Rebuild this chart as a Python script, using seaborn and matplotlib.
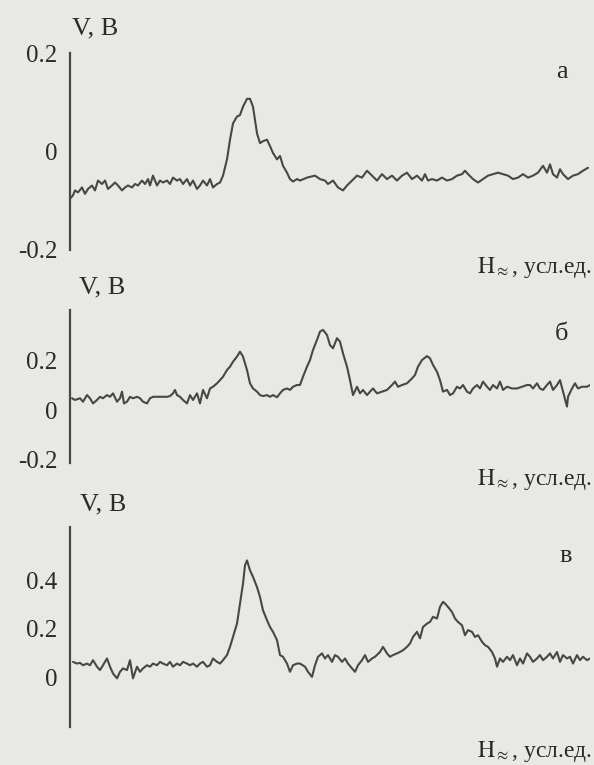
import matplotlib
matplotlib.use("Agg")
import matplotlib.pyplot as plt
import seaborn as sns
import pandas as pd

# ---------------- data (H in arbitrary units, V in volts) ----------------
# panel а
H_a1 = [0,3,5,8,12,15,18,22,25,28,32,35,38,42,45,48,52,55,58,62,65,68,72,75,78,80,83,87,90,93,
        97,100,103,107,110,113,117,120,123,127,130,133,137,140,143,147,150,153,157,160,163,167,170,173,177,
        180,183,187,190,193,197,200,203,207,210,213,217,220,223,227,230]
V_a1 = [-0.096,-0.089,-0.079,-0.083,-0.073,-0.086,-0.076,-0.069,-0.079,-0.059,-0.066,-0.059,-0.076,-0.069,
        -0.063,-0.069,-0.079,-0.073,-0.069,-0.073,-0.066,-0.069,-0.059,-0.066,-0.056,-0.069,-0.049,-0.069,
        -0.059,-0.063,-0.059,-0.066,-0.053,-0.059,-0.056,-0.066,-0.056,-0.069,-0.059,-0.076,-0.069,-0.059,
        -0.069,-0.056,-0.073,-0.066,-0.063,-0.049,-0.016,0.024,0.057,0.071,0.074,0.091,0.107,0.107,0.091,
        0.037,0.017,0.021,0.024,0.011,-0.003,-0.016,-0.009,-0.029,-0.043,-0.056,-0.061,-0.056,-0.059]
H_a2 = [237,245,250,255,258,263,268,273,277,282,287,292,297,302,307,312,317,322,327,332,337,342,347,352,
        355,358,362,367,372,377,382,387,392,395,398,403,408,413,418,423,428,433,438,443,448,453,458,463,
        468,473,477,480,483,487,490,493,498,503,508,513,518]
V_a2 = [-0.053,-0.049,-0.056,-0.059,-0.066,-0.059,-0.073,-0.079,-0.069,-0.059,-0.049,-0.053,-0.039,-0.049,
        -0.059,-0.046,-0.056,-0.049,-0.059,-0.049,-0.043,-0.056,-0.049,-0.059,-0.046,-0.059,-0.056,-0.059,
        -0.053,-0.059,-0.056,-0.049,-0.046,-0.039,-0.046,-0.056,-0.063,-0.056,-0.049,-0.046,-0.043,-0.046,
        -0.049,-0.056,-0.053,-0.046,-0.053,-0.049,-0.043,-0.029,-0.043,-0.026,-0.046,-0.053,-0.036,-0.046,
        -0.056,-0.049,-0.046,-0.039,-0.033]

# panel б
H_b1 = [2,5,10,13,17,20,23,27,30,33,37,40,43,47,50,52,54,57,60,63,67,70,73,77,80,83,87,90,93,97,
        100,103,105,107,110,113,117,120,123,127,130,133,137,140,143,147,150,153,157,160,163,167,170,173,
        177,180,183,187,190,193,197,200,203,207,210,213,217,220,223,227,230]
V_b1 = [0.048,0.041,0.048,0.034,0.061,0.048,0.027,0.041,0.054,0.048,0.061,0.054,0.068,0.034,0.048,0.075,
        0.027,0.034,0.054,0.048,0.054,0.048,0.034,0.027,0.048,0.054,0.054,0.054,0.054,0.054,0.057,0.068,
        0.082,0.061,0.054,0.041,0.027,0.061,0.041,0.068,0.027,0.082,0.048,0.088,0.095,0.109,0.122,0.136,
        0.163,0.177,0.197,0.218,0.238,0.218,0.163,0.109,0.088,0.075,0.061,0.057,0.061,0.054,0.061,0.052,
        0.068,0.082,0.088,0.082,0.095,0.102,0.102]
H_b2 = [233,237,240,243,247,250,253,257,260,263,267,270,273,277,280,283,287,290,293,297,300,303,307,312,
        317,322,325,328,332,337,342,345,348,352,357,360,363,367,370,373,377,380,383,387,390,393,397,400,
        403,407,410,413,417,420,423,427,430,433,437,442,447,452,457,460,463,467,470,473,477,480,483,487,
        490,493,497,498,502,505,508,512,517,520]
V_b2 = [0.136,0.177,0.204,0.245,0.286,0.320,0.327,0.306,0.265,0.252,0.293,0.279,0.231,0.177,0.122,0.061,
        0.095,0.068,0.082,0.061,0.075,0.088,0.068,0.075,0.082,0.102,0.116,0.095,0.102,0.109,0.129,0.143,
        0.177,0.204,0.220,0.211,0.184,0.156,0.122,0.075,0.082,0.061,0.068,0.095,0.088,0.102,0.075,0.068,
        0.088,0.102,0.088,0.116,0.095,0.082,0.102,0.088,0.116,0.082,0.095,0.088,0.088,0.095,0.102,0.102,
        0.088,0.109,0.088,0.082,0.102,0.116,0.082,0.102,0.122,0.075,0.014,0.054,0.088,0.109,0.088,0.095,
        0.095,0.102]

# panel в
H_c1 = [3,7,10,13,17,20,23,27,30,33,37,40,43,47,50,53,57,60,63,67,70,73,77,80,83,87,90,93,97,100,
        103,107,110,113,117,120,123,127,130,133,137,140,143,147,150,153,157,160,163,167,170,173,175,177,
        180,183,187,190,193,197,200,203,207,210,213,217,220,223,227,230]
V_c1 = [0.063,0.056,0.059,0.049,0.056,0.049,0.070,0.043,0.029,0.049,0.077,0.043,0.015,-0.005,0.022,0.036,
        0.029,0.070,-0.005,0.043,0.022,0.036,0.049,0.043,0.056,0.049,0.063,0.056,0.049,0.063,0.043,0.056,
        0.049,0.063,0.056,0.049,0.056,0.043,0.056,0.063,0.043,0.049,0.077,0.063,0.056,0.070,0.091,0.125,
        0.166,0.221,0.304,0.386,0.462,0.482,0.441,0.414,0.372,0.331,0.276,0.235,0.207,0.187,0.153,0.091,
        0.084,0.056,0.022,0.049,0.056,0.056]
H_c2 = [235,238,242,245,248,252,255,258,262,265,268,272,275,278,282,285,288,292,295,298,302,305,
        310,313,317,320,323,327,330,333,337,340,343,347,350,353,357,360,363,367,370,373,375,
        378,382,385,388,392,395,398,402,405,408,412,415,418,422,425,427,
        430,433,437,440,443,447,450,453,457,460,463,467,470,473,477,480,483,487,490,493,497,500,503,507,
        510,513,517,520]
V_c2 = [0.043,0.022,0.001,0.049,0.084,0.098,0.077,0.091,0.063,0.091,0.084,0.063,0.077,0.056,0.036,0.022,
        0.049,0.070,0.091,0.063,0.077,0.084,0.104,0.125,0.098,0.084,0.091,0.098,0.104,0.111,0.125,0.139,
        0.166,0.187,0.160,0.207,0.221,0.228,0.249,0.242,0.290,0.311,0.304,0.290,0.269,0.242,0.228,0.214,
        0.173,0.194,0.187,0.166,0.173,0.146,0.132,0.125,0.104,0.077,0.043,0.077,0.063,0.084,0.070,0.091,
        0.049,0.077,0.056,0.098,0.084,0.063,0.077,0.091,0.070,0.084,0.098,0.077,0.104,0.063,0.091,0.077,
        0.084,0.056,0.091,0.070,0.084,0.070,0.077]

ticks_a = [-0.2, 0.0, 0.2]
ticklabels_a = ["-0.2", "0", "0.2"]
ticks_b = [-0.2, 0.0, 0.2]
ticklabels_b = ["-0.2", "0", "0.2"]
ticks_c = [0.0, 0.2, 0.4]
ticklabels_c = ["0", "0.2", "0.4"]
panel_letters = ["а", "б", "в"]
y_label = "V, B"
x_label = "$\\mathrm{H}_{\\approx}$, усл.ед."

# ---------------- style ----------------
BG = "#e8e8e5"
INK = "#474747"
TXT = "#2a2a2a"
sns.set_style("white")
plt.rcParams["font.family"] = ["Liberation Serif", "DejaVu Serif"]
plt.rcParams["mathtext.fontset"] = "stix"
plt.rcParams["axes.unicode_minus"] = False

W, Hpx = 594, 765
fig = plt.figure(figsize=(W / 100, Hpx / 100), dpi=100, facecolor=BG)

panels = [
    dict(H=H_a1 + H_a2, V=V_a1 + V_a2, ylim=(-0.2, 0.2), ticks=ticks_a, tl=ticklabels_a,
         axpx=(53, 250), letter=panel_letters[0], letpos=(562, 72), vbpos=(95, 28), hpos=(592, 268)),
    dict(H=H_b1 + H_b2, V=V_b1 + V_b2, ylim=(-0.216, 0.408), ticks=ticks_b, tl=ticklabels_b,
         axpx=(310, 463), letter=panel_letters[1], letpos=(562, 334), vbpos=(102, 287), hpos=(592, 480)),
    dict(H=H_c1 + H_c2, V=V_c1 + V_c2, ylim=(-0.206, 0.62), ticks=ticks_c, tl=ticklabels_c,
         axpx=(527, 727), letter=panel_letters[2], letpos=(566, 556), vbpos=(103, 504), hpos=(592, 751)),
]

left_px, right_px = 70, 590
for p in panels:
    top, bot = p["axpx"]
    ax = fig.add_axes([left_px / W, 1 - bot / Hpx, (right_px - left_px) / W, (bot - top) / Hpx])
    ax.set_facecolor("none")
    df = pd.DataFrame({"H": p["H"], "V": p["V"]})
    sns.lineplot(data=df, x="H", y="V", ax=ax, color=INK, linewidth=1.5,
                 estimator=None, sort=False)
    ax.set_xlim(0, 520)
    ax.set_ylim(*p["ylim"])
    sns.despine(ax=ax, top=True, right=True, bottom=True, left=False)
    ax.spines["left"].set_color(INK)
    ax.spines["left"].set_linewidth(1.6)
    ax.set_xticks([])
    ax.set_yticks(p["ticks"])
    ax.set_yticklabels(p["tl"])
    ax.tick_params(axis="y", direction="in", length=6, width=2.2, pad=9,
                   labelsize=18, colors=INK, labelcolor=TXT)
    ax.set_xlabel("")
    ax.set_ylabel("")
    ax.grid(False)
    fig.text(p["vbpos"][0] / W, 1 - p["vbpos"][1] / Hpx, y_label, fontsize=19,
             ha="center", va="center", color=TXT)
    fig.text(p["hpos"][0] / W, 1 - p["hpos"][1] / Hpx, x_label, fontsize=17,
             ha="right", va="center", color=TXT)
    fig.text(p["letpos"][0] / W, 1 - p["letpos"][1] / Hpx, p["letter"], fontsize=19,
             ha="center", va="center", color=TXT)

fig.savefig("out.png", dpi=100, facecolor=BG)
